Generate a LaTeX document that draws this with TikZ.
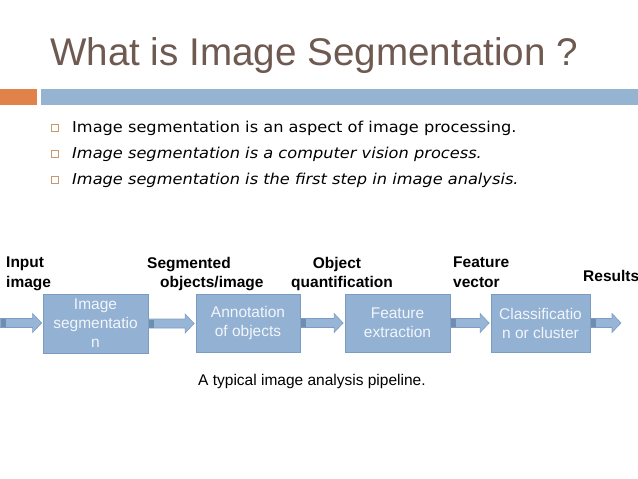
\documentclass[tikz,border=0pt]{standalone}
\usepackage{fontspec}
\setmainfont{Liberation Sans}
\newfontfamily\bulletfont[FakeStretch=1.08]{DejaVu Sans}
\usetikzlibrary{calc}
\definecolor{titlec}{HTML}{6E5A50}
\definecolor{orangec}{HTML}{E0824A}
\definecolor{barblue}{HTML}{94B4D2}
\definecolor{boxfill}{HTML}{92B1D3}
\definecolor{boxline}{HTML}{7B9CC1}
\definecolor{boxtext}{HTML}{F2F6FB}
\definecolor{arrfill}{HTML}{97B5D6}
\definecolor{arrline}{HTML}{7D9CC0}
\definecolor{arrdark}{HTML}{6E8DB3}
\definecolor{bulletc}{HTML}{C8996C}
\newcommand\blockarr[2]{%
  \draw[arrbody] let \p1=(#1), \p2=(#2) in
    (\x1,\y1+4.5pt) -- (\x2-9pt,\y1+4.5pt) -- (\x2-9pt,\y1+9.5pt) -- (\x2,\y1)
    -- (\x2-9pt,\y1-9.5pt) -- (\x2-9pt,\y1-4.5pt) -- (\x1,\y1-4.5pt) -- cycle;
  \fill[arrdark] let \p1=(#1) in (\x1+0.5pt,\y1+4pt) rectangle (\x1+6pt,\y1-4pt);}
\begin{document}
\begin{tikzpicture}[x=1pt,y=-1pt,
  stagebox/.style={draw=boxline, line width=0.8pt, fill=boxfill, text=boxtext,
    minimum width=104pt, minimum height=58pt, inner sep=0pt, align=center,
    font=\fontsize{15.5}{19}\selectfont},
  flowlabel/.style={inner sep=0pt, font=\fontsize{15.5}{19.5}\selectfont\bfseries, text=black},
  bullettext/.style={anchor=base west, inner sep=0pt, font=\bulletfont\fontsize{15}{18}\selectfont},
  bulletsq/.style={draw=bulletc, line width=0.7pt, minimum size=6.5pt, inner sep=0pt},
  arrbody/.style={fill=arrfill, draw=arrline, line width=0.6pt, line join=miter}]
\useasboundingbox (0,0) rectangle (638,479);
\fill[white] (0,0) rectangle (638,479);
% title
\node[anchor=base west, inner sep=0pt, text=titlec, font=\fontsize{38.6}{44}\selectfont] (title) at (50,65) {What is Image Segmentation ?};
\fill[orangec] (0,89) rectangle (37,105);
\fill[barblue] (41,89) rectangle (638,105);
% bullets
\node[bulletsq] (s1) at (55,128) {};
\node[bullettext] (t1) at (72,132) {Image segmentation is an aspect of image processing.};
\node[bulletsq] (s2) at (55,154) {};
\node[bullettext] (t2) at (72,158) {\itshape Image segmentation is a computer vision process.};
\node[bulletsq] (s3) at (55,180) {};
\node[bullettext] (t3) at (72,184) {\itshape Image segmentation is the first step in image analysis.};
% pipeline
\node[stagebox, minimum width=105pt, minimum height=59pt] (b1) at (95.5,323.5) {Image\\segmentatio\\n};
\node[stagebox] (b2) at (248,323) {Annotation\\of objects};
\node[stagebox, minimum width=105pt] (b3) at (397.5,323) {Feature\\extraction};
\node[stagebox, minimum width=99pt] (b4) at (540.5,323) {Classificatio\\n or cluster};
\coordinate (in) at (0,323);
\coordinate (out) at (621,323);
\blockarr{in}{$(b1.west)+(-1,0)$}
\blockarr{b1.east}{$(b2.west)+(-1.5,0)$}
\blockarr{b2.east}{$(b3.west)+(-1.5,0)$}
\blockarr{b3.east}{$(b4.west)+(-1.5,0)$}
\blockarr{b4.east}{out}
% labels
\node[flowlabel, anchor=north west, align=left] (l1) at (6,257) {Input\\image};
\node[flowlabel, anchor=north west, align=left] (l2) at (147,257) {Segmented\\\hspace*{13pt}objects/image};
\node[flowlabel, anchor=north, align=center] (l3) at (342,257) {Object\hspace*{10pt}\\quantification};
\node[flowlabel, anchor=north west, align=left] (l4) at (453,257) {Feature\\vector};
\node[flowlabel, anchor=base west] (l5) at (583,281) {Results};
% caption
\node[anchor=base west, inner sep=0pt, font=\fontsize{15.5}{18}\selectfont] (cap) at (198,385) {A typical image analysis pipeline.};
\end{tikzpicture}
\end{document}
